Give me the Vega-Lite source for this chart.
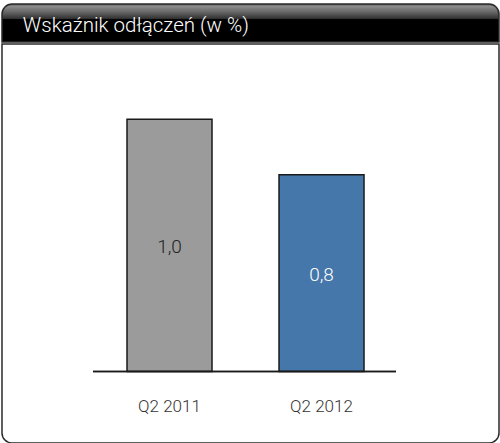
{
  "$schema": "https://vega.github.io/schema/vega-lite/v6.json",
  "padding": {"left": 1, "top": 3, "right": 1, "bottom": 1},
  "background": "white",
  "spacing": 0,
  "config": {
    "view": {"stroke": null},
    "locale": {"number": {"decimal": ",", "thousands": " ", "grouping": [3], "currency": ["", " zł"]}}
  },
  "vconcat": [
    {
      "width": 497,
      "height": 38,
      "data": {"values": [{"title": "Wskaźnik odłączeń (w %)"}]},
      "layer": [
        {
          "mark": {
            "type": "rect",
            "fill": {
              "gradient": "linear", "x1": 0, "y1": 0, "x2": 0, "y2": 1,
              "stops": [
                {"offset": 0, "color": "#5a5a5a"},
                {"offset": 0.06, "color": "#8c8c8c"},
                {"offset": 0.2, "color": "#6a6a6a"},
                {"offset": 0.38, "color": "#333333"},
                {"offset": 0.41, "color": "#000000"},
                {"offset": 1, "color": "#000000"}
              ]
            },
            "stroke": "#2a2a2a",
            "strokeWidth": 1.5,
            "cornerRadiusTopLeft": 10,
            "cornerRadiusTopRight": 10
          },
          "encoding": {}
        },
        {
          "mark": {"type": "text", "align": "left", "baseline": "middle", "fontSize": 20.5, "font": "Roboto", "fontWeight": 300, "color": "#ffffff", "dy": 3},
          "encoding": {
            "x": {"datum": 0.042, "type": "quantitative", "scale": {"domain": [0, 1]}, "axis": null},
            "text": {"field": "title"}
          }
        }
      ]
    },
    {
      "width": 497,
      "height": 399,
      "data": {"values": [
        {"quarter": "Q2 2011", "value": 1.0},
        {"quarter": "Q2 2012", "value": 0.78}
      ]},
      "layer": [
        {
          "data": {"values": [{}]},
          "mark": {"type": "rect", "fill": "white", "stroke": "#2a2a2a", "strokeWidth": 1.5, "cornerRadiusBottomLeft": 10, "cornerRadiusBottomRight": 10},
          "encoding": {}
        },
        {
          "mark": {"type": "bar", "stroke": "#1a1a1a", "strokeWidth": 1.5},
          "encoding": {
            "x": {
              "field": "quarter", "type": "nominal", "sort": null,
              "scale": {"type": "band", "paddingInner": 0.4408, "paddingOuter": 0.8553, "align": 0.4808},
              "axis": {"title": null, "orient": "bottom", "offset": -71.5, "zindex": 2, "domain": false, "ticks": false, "labelAngle": 0, "labelPadding": 27, "labelFontSize": 17, "labelFont": "Roboto", "labelFontWeight": 300, "labelColor": "#333333"}
            },
            "y": {"field": "value", "type": "quantitative", "scale": {"domain": [-0.2835, 1.2986], "nice": false, "zero": false}, "axis": null},
            "fill": {"field": "quarter", "type": "nominal", "scale": {"range": ["#9b9b9b", "#4577aa"]}, "legend": null}
          }
        },
        {
          "mark": {"type": "rule", "color": "#1a1a1a", "strokeWidth": 1.5},
          "encoding": {
            "x": {"datum": "Q2 2011", "type": "nominal", "bandPosition": -0.4},
            "x2": {"datum": "Q2 2012", "bandPosition": 1.376},
            "y": {"datum": 0, "type": "quantitative", "scale": {"domain": [-0.2835, 1.2986], "nice": false, "zero": false}, "axis": null}
          }
        },
        {
          "mark": {"type": "text", "baseline": "middle", "fontSize": 19, "font": "Roboto", "fontWeight": 300, "dy": 2},
          "encoding": {
            "x": {"field": "quarter", "type": "nominal", "sort": null},
            "y": {"field": "value", "type": "quantitative", "scale": {"domain": [-0.567, 2.5972], "nice": false, "zero": false}, "axis": null},
            "text": {"field": "value", "type": "quantitative", "format": ".1f"},
            "color": {"field": "quarter", "type": "nominal", "scale": {"range": ["#222222", "#ffffff"]}, "legend": null}
          }
        }
      ],
      "resolve": {"scale": {"y": "independent", "color": "independent", "fill": "independent"}}
    }
  ]
}
